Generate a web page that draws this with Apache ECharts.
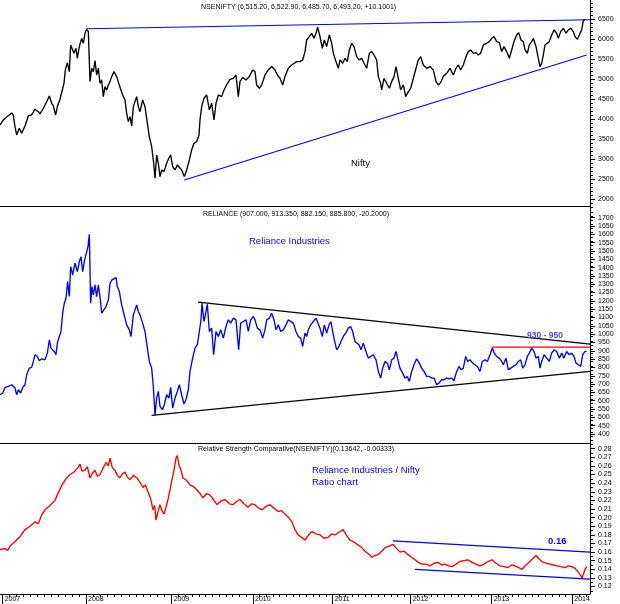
<!DOCTYPE html>
<html><head><meta charset="utf-8">
<script src="https://cdn.jsdelivr.net/npm/echarts@6/dist/echarts.min.js"></script>
<style>html,body{margin:0;padding:0;background:#fff}#c{width:620px;height:604px}</style>
</head><body><div id="c"></div>
<script>
// x = trading-session number from the start of the chart
const yearLabels = ['2007','2008','2009','2010','2011','2012','2013','2014'];
const yearStart  = [8, 258, 515, 759, 998, 1232, 1475, 1717];
const sessionMax = 1770;

const niftyTicks = [2000,2500,3000,3500,4000,4500,5000,5500,6000,6500];
const relTicks = [400,450,500,550,600,650,700,750,800,850,900,950,1000,1050,1100,1150,1200,1250,1300,1350,1400,1450,1500,1550,1600,1650,1700];
const ratioTicks = [0.12,0.13,0.14,0.15,0.16,0.17,0.18,0.19,0.20,0.21,0.22,0.23,0.24,0.25,0.26,0.27,0.28];

const nifty = [[0,3858],[10,3980],[20,4057],[35,4158],[40,4100],[45,3818],[50,3608],[58,3775],[65,3650],[75,3833],[85,4083],[95,4108],[105,4250],[115,4190],[120,4133],[130,4275],[140,4440],[148,4583],[155,4400],[160,4333],[167,4108],[172,4317],[180,4500],[185,4500],[192,4900],[196,5233],[202,5417],[208,5192],[212,5858],[218,5900],[222,5650],[228,5775],[232,5525],[238,5817],[245,6025],[250,5900],[255,6150],[260,6250],[265,6190],[270,4942],[275,5275],[280,5192],[285,5467],[290,5108],[295,5275],[300,4900],[305,4983],[310,4567],[315,4817],[320,4733],[325,4858],[330,4942],[335,5067],[342,5192],[350,5067],[355,5108],[360,4800],[368,4608],[375,4483],[380,4150],[385,3942],[390,4067],[395,3833],[400,4317],[410,4567],[415,4317],[420,4190],[428,4483],[435,4317],[440,4025],[448,3567],[455,3317],[460,2983],[465,2525],[470,3108],[475,2900],[480,2567],[485,2733],[492,2692],[500,2900],[505,3000],[512,3108],[518,2817],[525,2733],[532,2858],[538,2900],[545,2733],[553,2567],[560,2733],[568,2983],[575,3233],[582,3400],[590,3442],[597,3608],[600,3983],[605,4317],[612,4525],[620,4608],[628,4233],[635,4400],[642,3983],[648,4400],[655,4608],[665,4567],[672,4733],[680,4858],[690,5000],[700,5025],[708,5108],[715,4567],[720,4942],[728,5050],[738,4983],[748,5067],[758,5233],[765,5192],[770,4858],[778,4775],[785,4858],[795,5108],[805,5233],[815,5317],[825,5233],[832,5108],[840,5025],[848,4858],[855,5067],[865,5275],[875,5358],[890,5442],[900,5442],[908,5483],[915,5692],[920,5983],[928,6067],[935,6150],[942,6025],[948,6150],[953,6300],[960,6067],[967,5775],[973,5983],[980,5817],[988,6108],[995,5900],[1000,5650],[1008,5442],[1015,5275],[1020,5483],[1028,5400],[1035,5525],[1042,5442],[1048,5733],[1055,5900],[1062,5817],[1070,5567],[1078,5483],[1085,5525],[1092,5400],[1100,5275],[1108,5650],[1115,5692],[1122,5608],[1130,5483],[1135,5067],[1142,4900],[1145,4733],[1152,5025],[1160,4900],[1168,4775],[1175,4942],[1182,5067],[1188,5317],[1195,5025],[1202,4733],[1210,4858],[1217,4567],[1225,4692],[1232,4775],[1240,5025],[1248,5275],[1255,5483],[1262,5567],[1270,5358],[1280,5275],[1290,5317],[1300,5233],[1308,4942],[1315,4858],[1322,4917],[1330,5067],[1340,5150],[1350,5275],[1360,5108],[1368,5275],[1375,5358],[1382,5233],[1390,5358],[1398,5567],[1405,5692],[1412,5733],[1420,5650],[1428,5667],[1435,5608],[1442,5650],[1450,5858],[1460,5900],[1468,5942],[1475,6025],[1482,6067],[1490,5942],[1498,5917],[1505,5692],[1512,5817],[1520,5692],[1528,5525],[1535,5733],[1542,5942],[1550,6108],[1556,6167],[1563,5983],[1570,5942],[1575,5733],[1582,5650],[1588,5858],[1595,5942],[1600,6025],[1608,5817],[1615,5525],[1620,5317],[1625,5400],[1630,5608],[1635,5858],[1640,5817],[1648,5942],[1655,6108],[1662,6233],[1670,6150],[1675,6025],[1682,6192],[1690,6275],[1698,6150],[1705,6233],[1712,6275],[1720,6192],[1725,6067],[1732,6000],[1738,6108],[1745,6233],[1750,6467],[1755,6500]];

const reliance = [[0,636],[8,646],[15,680],[25,686],[35,696],[40,706],[45,676],[50,636],[55,666],[62,646],[68,680],[75,696],[80,756],[88,796],[95,800],[100,836],[105,876],[112,866],[118,840],[125,852],[135,846],[142,886],[148,966],[153,916],[158,926],[163,896],[168,876],[172,946],[178,986],[183,1016],[188,1126],[193,1186],[198,1216],[203,1316],[208,1226],[212,1406],[218,1356],[225,1426],[232,1376],[238,1436],[243,1466],[248,1376],[254,1446],[260,1456],[264,1526],[268,1600],[272,1186],[276,1286],[280,1236],[285,1296],[290,1226],[295,1296],[300,1226],[305,1126],[310,1116],[315,1156],[320,1176],[325,1206],[330,1306],[336,1326],[342,1326],[348,1340],[352,1286],[358,1256],[365,1176],[370,1136],[375,1096],[380,1056],[388,1026],[393,986],[400,1116],[405,1146],[410,1176],[415,1136],[420,1116],[428,1066],[435,1016],[440,946],[448,836],[455,796],[460,686],[465,512],[470,616],[475,656],[480,566],[487,546],[493,576],[500,636],[507,616],[512,680],[518,556],[525,616],[532,656],[538,696],[545,636],[552,580],[558,606],[565,666],[570,776],[578,856],[585,916],[592,936],[598,1016],[603,1086],[606,1186],[612,1076],[618,1136],[622,1180],[628,1016],[635,1036],[641,876],[648,1016],[655,986],[662,1026],[670,976],[678,1046],[685,1086],[692,1066],[700,1096],[708,1086],[716,906],[722,1066],[730,1076],[738,1086],[745,1016],[752,1086],[760,1106],[765,1086],[772,1036],[780,1026],[788,976],[795,1026],[800,1086],[808,1096],[815,1126],[822,1086],[828,1026],[835,1056],[842,1016],[850,1026],[858,1056],[865,1086],[870,1086],[880,1066],[888,1016],[895,986],[902,976],[908,926],[915,1006],[920,986],[925,1026],[932,1056],[940,1076],[948,1096],[954,1100],[960,1036],[967,986],[973,1056],[980,1006],[987,1056],[993,1076],[998,1016],[1003,966],[1010,906],[1017,926],[1023,956],[1030,986],[1037,1006],[1045,1036],[1052,1046],[1058,1016],[1065,956],[1070,956],[1077,936],[1083,906],[1090,946],[1098,896],[1105,856],[1112,866],[1120,876],[1128,846],[1135,776],[1142,736],[1148,796],[1155,836],[1162,826],[1168,786],[1175,846],[1182,856],[1188,896],[1195,836],[1200,796],[1208,766],[1215,736],[1222,746],[1228,716],[1235,776],[1242,816],[1250,852],[1258,826],[1265,796],[1272,776],[1280,746],[1288,746],[1295,736],[1302,736],[1310,696],[1317,706],[1325,726],[1332,726],[1340,736],[1348,732],[1355,736],[1362,720],[1370,776],[1377,806],[1383,786],[1390,796],[1397,866],[1403,836],[1410,846],[1418,826],[1425,816],[1432,806],[1440,776],[1447,836],[1455,846],[1462,836],[1470,876],[1477,916],[1483,886],[1490,866],[1498,856],[1505,836],[1510,816],[1518,856],[1525,786],[1532,796],[1540,806],[1548,816],[1555,836],[1562,846],[1568,796],[1575,816],[1582,866],[1588,886],[1595,916],[1602,896],[1608,856],[1615,866],[1620,796],[1625,836],[1632,876],[1640,856],[1648,836],[1655,886],[1662,906],[1670,896],[1678,856],[1685,886],[1692,856],[1700,896],[1708,876],[1715,886],[1722,866],[1728,826],[1735,816],[1742,806],[1748,876],[1755,896],[1760,896]];

const ratio = [[0,0.163],[15,0.164],[24,0.162],[30,0.167],[45,0.172],[60,0.178],[75,0.186],[90,0.19],[105,0.195],[115,0.193],[125,0.203],[135,0.209],[150,0.214],[165,0.220],[175,0.229],[186,0.238],[198,0.245],[210,0.250],[222,0.253],[234,0.258],[240,0.262],[246,0.254],[255,0.255],[262,0.259],[270,0.246],[278,0.252],[285,0.255],[292,0.248],[300,0.250],[310,0.258],[318,0.264],[325,0.260],[330,0.269],[337,0.258],[345,0.255],[352,0.249],[360,0.246],[368,0.251],[375,0.253],[382,0.247],[390,0.244],[400,0.249],[411,0.246],[420,0.241],[429,0.235],[436,0.238],[444,0.230],[452,0.222],[459,0.209],[464,0.214],[468,0.197],[474,0.207],[480,0.215],[486,0.208],[492,0.204],[498,0.212],[504,0.221],[510,0.232],[516,0.244],[522,0.255],[528,0.269],[532,0.272],[537,0.261],[543,0.255],[549,0.246],[560,0.243],[570,0.238],[580,0.236],[591,0.232],[600,0.228],[609,0.223],[620,0.228],[630,0.226],[640,0.221],[651,0.215],[662,0.219],[675,0.221],[688,0.216],[699,0.215],[710,0.219],[720,0.221],[732,0.216],[744,0.212],[755,0.216],[765,0.215],[776,0.211],[786,0.209],[798,0.213],[810,0.215],[822,0.211],[834,0.207],[845,0.208],[855,0.204],[866,0.200],[876,0.195],[885,0.186],[894,0.180],[905,0.177],[915,0.174],[926,0.180],[936,0.184],[948,0.181],[960,0.180],[972,0.176],[984,0.177],[995,0.181],[1005,0.180],[1017,0.183],[1029,0.186],[1040,0.179],[1050,0.174],[1060,0.172],[1071,0.169],[1083,0.166],[1095,0.161],[1105,0.158],[1116,0.154],[1125,0.156],[1134,0.157],[1145,0.161],[1155,0.165],[1167,0.167],[1179,0.169],[1190,0.164],[1200,0.160],[1212,0.161],[1224,0.157],[1235,0.154],[1245,0.151],[1255,0.148],[1266,0.146],[1278,0.146],[1290,0.144],[1302,0.147],[1314,0.148],[1325,0.145],[1335,0.146],[1346,0.144],[1356,0.143],[1368,0.146],[1380,0.149],[1392,0.150],[1404,0.151],[1416,0.148],[1428,0.146],[1440,0.144],[1452,0.146],[1464,0.149],[1476,0.151],[1488,0.147],[1500,0.144],[1512,0.143],[1524,0.142],[1535,0.145],[1545,0.144],[1556,0.142],[1566,0.140],[1578,0.145],[1590,0.149],[1600,0.153],[1608,0.156],[1617,0.152],[1626,0.149],[1638,0.147],[1650,0.146],[1660,0.145],[1671,0.144],[1683,0.143],[1695,0.142],[1705,0.144],[1716,0.143],[1725,0.141],[1734,0.137],[1740,0.134],[1746,0.130],[1750,0.134],[1755,0.140],[1761,0.143]];

// trend lines (start/end points)
const niftyTop = [[260,6263],[1770,6488]];
const niftyBottom = [[553,2483],[1760,5608]];
const relTop = [[594,1192],[1770,940]];
const relBottom = [[455,512],[1770,776]];
const relResist = [[1475,922],[1770,922]];
const ratioTop = [[1179,0.173],[1770,0.160]];
const ratioBottom = [[1245,0.140],[1770,0.1285]];

const FONT = 'Liberation Sans, Arial, sans-serif';
const chart = echarts.init(document.getElementById('c'), null, {renderer:'canvas'});

function range(a,b,s){const r=[];for(let v=a;v<=b+1e-9;v+=s)r.push(+v.toFixed(4));return r;}
const monthTicks=[];
for(let i=0;i<yearStart.length;i++){
  const a=yearStart[i], b=(i+1<yearStart.length)?yearStart[i+1]:yearStart[i]+243;
  for(let k=1;k<12;k++){const v=a+(b-a)*k/12; if(v<sessionMax) monthTicks.push(v);}
}

const grids=[{left:0,right:30,top:0,height:206},{left:0,right:30,top:206,height:237},{left:0,right:30,top:443,height:151}];
const yr=[[1832,6982],[346,1770],[0.1113,0.2866]];
const majors=[niftyTicks,relTicks,ratioTicks];
const minors=[range(1900,6900,100),range(360,1760,25),range(0.115,0.285,0.005)];
const fmts=[v=>String(Math.round(v)),v=>String(Math.round(v)),v=>v.toFixed(2)];

const xAxis=[], yAxis=[];
for(let g=0;g<3;g++){
  xAxis.push({type:'value',gridIndex:g,min:0,max:sessionMax,position:'bottom',
    axisLine:{show:true,onZero:false,lineStyle:{color:'#000',width:1}},
    axisTick:{show:g===2,customValues:yearStart,length:10,lineStyle:{color:'#000'}},
    axisLabel:{show:g===2,customValues:yearStart,align:'left',margin:2,padding:[0,0,0,2],fontSize:7,color:'#000',fontFamily:FONT,
      formatter:v=>yearLabels[yearStart.indexOf(v)]},
    splitLine:{show:false}});
}
xAxis.push({type:'value',gridIndex:2,min:0,max:sessionMax,position:'bottom',
  axisLine:{show:false,onZero:false},axisTick:{show:true,customValues:monthTicks,length:3,lineStyle:{color:'#000'}},
  axisLabel:{show:false},splitLine:{show:false}});
for(let g=0;g<3;g++){
  yAxis.push({type:'value',gridIndex:g,position:'right',min:yr[g][0],max:yr[g][1],
    axisLine:{show:true,onZero:false,lineStyle:{color:'#000',width:1}},splitLine:{show:false},
    axisTick:{show:true,customValues:majors[g],length:5,lineStyle:{color:'#000'}},
    axisLabel:{show:true,customValues:majors[g],formatter:fmts[g],margin:8,fontSize:7,color:'#000',fontFamily:FONT}});
  yAxis.push({type:'value',gridIndex:g,position:'right',min:yr[g][0],max:yr[g][1],
    axisLine:{show:false,onZero:false},splitLine:{show:false},
    axisTick:{show:true,customValues:minors[g],length:3,lineStyle:{color:'#000'}},axisLabel:{show:false}});
}

function line(data,g,color,w){return {type:'line',xAxisIndex:g,yAxisIndex:g*2,data,showSymbol:false,symbol:'none',
  lineStyle:{color,width:w},itemStyle:{color},animation:false,silent:true,z:3};}

const series=[
  line(nifty,0,'#000000',1.35),
  line(niftyTop,0,'#0000ff',1.2),
  line(niftyBottom,0,'#0000ff',1.2),
  line(reliance,1,'#0000ff',1.35),
  line(relTop,1,'#000000',1.2),
  line(relBottom,1,'#000000',1.2),
  line(relResist,1,'#ff0000',1.4),
  line(ratio,2,'#ff0000',1.35),
  line(ratioTop,2,'#0000ff',1.2),
  line(ratioBottom,2,'#0000ff',1.2)
];

function txt(x,y,text,font,fill){return {type:'text',x,y,silent:true,z:10,style:{text,font,fill,textVerticalAlign:'middle'}};}
const graphic=[
  txt(201,7,'NSENIFTY (6,515.20, 6,522.90, 6,485.70, 6,493.20, +10.1001)','7px '+FONT,'#000'),
  txt(203,214,'RELIANCE (907.000, 913.350, 882.150, 885.800, -20.2000)','7px '+FONT,'#000'),
  txt(198,449,'Relative Strength Comparative(NSENIFTY)(0.13642, -0.00333)','7px '+FONT,'#000'),
  txt(351,163,'Nifty','9.5px '+FONT,'#000'),
  txt(249,241,'Reliance Industries','9.5px '+FONT,'#0000ee'),
  txt(312,470,'Reliance Industries / Nifty','9.5px '+FONT,'#0000ee'),
  txt(312,482,'Ratio chart','9.5px '+FONT,'#0000ee'),
  txt(527,336,'930 - 950','bold 8.5px '+FONT,'#4a4aff'),
  txt(548,541,'0.16','bold 9.5px '+FONT,'#0000ee')
];

chart.setOption({animation:false,backgroundColor:'#ffffff',grid:grids,xAxis,yAxis,series,graphic});
</script></body></html>
